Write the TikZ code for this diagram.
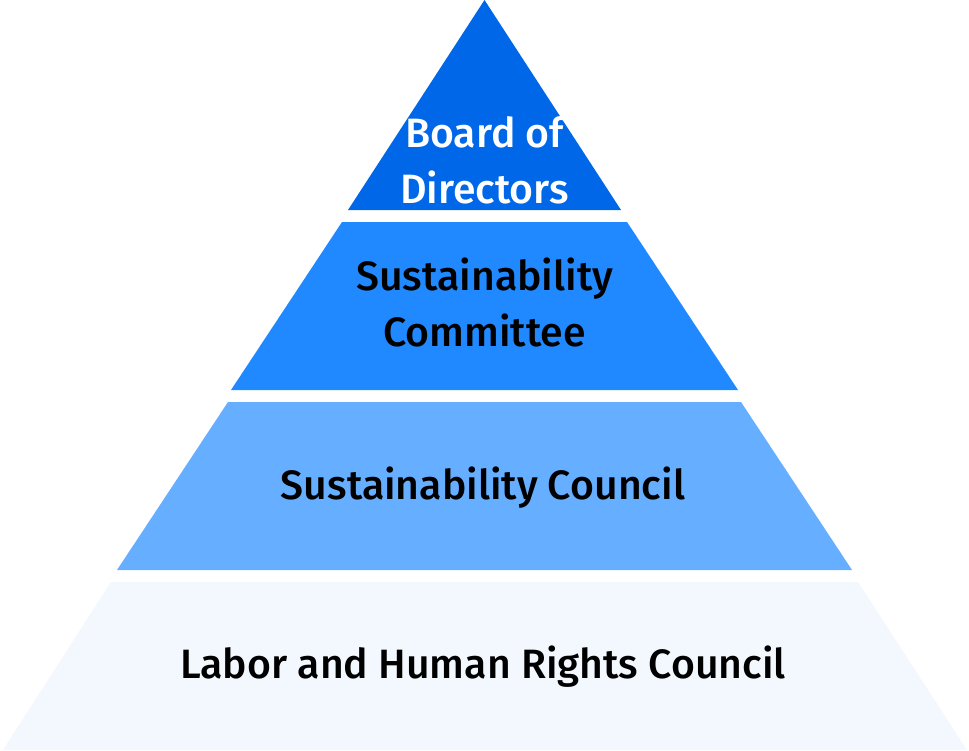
\documentclass[tikz,border=0pt]{standalone}
\usepackage{fontspec}
\setmainfont{Fira Sans}[UprightFont={* Medium}]
\definecolor{topblue}{RGB}{0,104,232}
\definecolor{midblue}{RGB}{33,137,255}
\definecolor{lightblue}{RGB}{102,174,255}
\definecolor{paleblue}{RGB}{243,247,254}
\tikzset{
  tierlabel/.style={font=\fontsize{41}{56}\selectfont, align=center, inner sep=0pt},
}
\begin{document}
\begin{tikzpicture}[x=1pt, y=-1pt]
    \useasboundingbox[fill=white] (0,0) rectangle (969,750);

    % Top tier
    \fill[topblue] (484.5,0) -- (621,210) -- (348,210) -- cycle;
    \path (484.5,160) node [tierlabel, text=white] (board) {Board of\\Directors};

    % Second tier
    \fill[midblue] (342,222) -- (627,222) -- (738,390) -- (231,390) -- cycle;
    \path (484.5,302) node [tierlabel] (committee) {Sustainability\\Committee};

    % Third tier
    \fill[lightblue] (228,402) -- (741,402) -- (852,570) -- (117,570) -- cycle;
    \path (483,488) node [tierlabel] (council) {Sustainability Council};

    % Bottom tier
    \fill[paleblue] (111,582) -- (858,582) -- (967,750) -- (3,750) -- cycle;
    \path (483,667) node [tierlabel] (labor) {Labor and Human Rights Council};
\end{tikzpicture}
\end{document}
